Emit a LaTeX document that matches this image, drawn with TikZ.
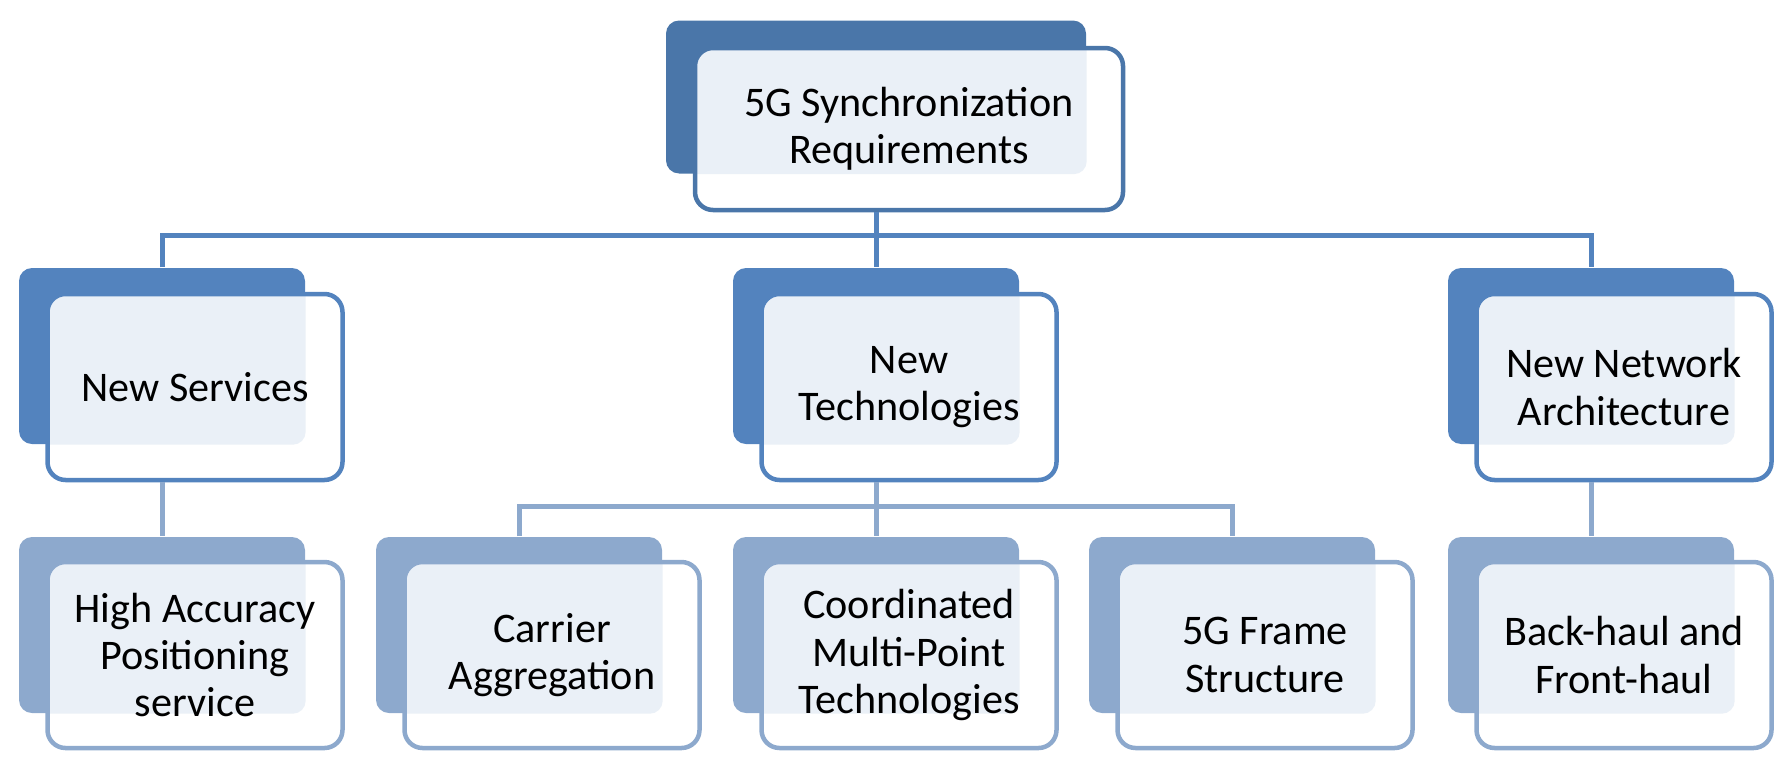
\documentclass[tikz,border=0pt]{standalone}
\usepackage{fontspec}
\setmainfont{Carlito}
\usetikzlibrary{positioning}
\definecolor{lvA}{HTML}{4A76A9}
\definecolor{lvB}{HTML}{5383BE}
\definecolor{lvC}{HTML}{8DA9CD}
\definecolor{speck}{HTML}{EAF0F7}

\begin{document}
\begin{tikzpicture}[
  x=0.1mm, y=-0.1mm,
  font=\fontsize{12}{13.4}\selectfont,
  back/.style={fill=#1, rounded corners=1.3mm, inner sep=0pt, minimum width=28.6mm, minimum height=17.6mm},
  front/.style={draw=#1, line width=0.45mm, fill=white, rounded corners=1.8mm, align=center, inner sep=0pt, minimum width=29.5mm, minimum height=18.6mm},
  speckle/.style={path picture={\fill[speck, rounded corners=1.3mm] (#1.south west) rectangle (#1.north east);}},
  link/.style={draw=#1, line width=0.5mm}]
  \useasboundingbox (0,0) rectangle (1792,770);

  \node[back=lvA, minimum width=42mm, minimum height=15.3mm] (reqB) at (876,97) {};
  \node[front=lvA, speckle=reqB, minimum width=42.8mm, minimum height=16.2mm] (req) at ([shift={(33,32)}]reqB) {5G Synchronization\\Requirements};

  \node[back=lvB] (srvB) at (162,356) {};
  \node[front=lvB, speckle=srvB] (srv) at ([shift={(33,31)}]srvB) {New Services};
  \node[back=lvB] (tecB) at (876,356) {};
  \node[front=lvB, speckle=tecB] (tec) at ([shift={(33,31)}]tecB) {New\\Technologies};
  \node[back=lvB] (netB) at (1591,356) {};
  \node[front=lvB, speckle=netB] (net) at ([shift={(33,31)}]netB) {New Network\\Architecture};

  \node[back=lvC] (hapB) at (162,625) {};
  \node[front=lvC, speckle=hapB] (hap) at ([shift={(33,30)}]hapB) {High Accuracy\\Positioning\\service};
  \node[back=lvC] (carB) at (519,625) {};
  \node[front=lvC, speckle=carB] (car) at ([shift={(33,30)}]carB) {Carrier\\Aggregation};
  \node[back=lvC] (compB) at (876,625) {};
  \node[front=lvC, speckle=compB] (comp) at ([shift={(33,30)}]compB) {Coordinated\\Multi-Point\\Technologies};
  \node[back=lvC] (frmB) at (1232,625) {};
  \node[front=lvC, speckle=frmB] (frm) at ([shift={(33,30)}]frmB) {5G Frame\\Structure};
  \node[back=lvC] (bhB) at (1591,625) {};
  \node[front=lvC, speckle=bhB] (bh) at ([shift={(33,30)}]bhB) {Back-haul and\\Front-haul};

  \coordinate (busA) at (876,235);
  \coordinate (busB) at (876,506);
  \draw[link=lvB] (req.south -| reqB) -- (tecB.north);
  \draw[link=lvB] (srvB.north) |- (busA) -| (netB.north);
  \draw[link=lvC] (tec.south -| tecB) -- (compB.north);
  \draw[link=lvC] (carB.north) |- (busB) -| (frmB.north);
  \draw[link=lvC] (srv.south -| srvB) -- (hapB.north);
  \draw[link=lvC] (net.south -| netB) -- (bhB.north);
\end{tikzpicture}
\end{document}
